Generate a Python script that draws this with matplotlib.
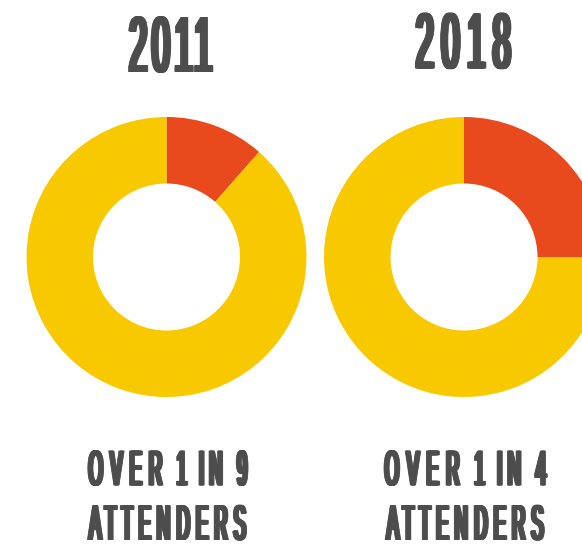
import numpy as np
import matplotlib
matplotlib.use("Agg")
import matplotlib.pyplot as plt
from matplotlib import patheffects
from matplotlib.path import Path
from matplotlib.transforms import Affine2D

# data
years = ['2011', '2018']
share = [11.5, 25.0]          # % of attenders, red slice
captions = ['OVER 1 IN 9', 'OVER 1 IN 4']
caption2 = 'ATTENDERS'

RED = '#E8491D'
YELLOW = '#F9C900'
GREY = '#4D4D4D'


class Condensed(patheffects.AbstractPathEffect):
    """fake a condensed display face: narrow each glyph, keep some spacing,
    thicken vertical stems, fit the whole line to a given ink width (px)"""
    def __init__(self, width_px, squeeze, bold_px, lw=0.5, yscale=1.0):
        super().__init__()
        self.width_px = width_px
        self.squeeze = squeeze
        self.bold_px = bold_px
        self.lw = lw
        self.yscale = yscale

    def draw_path(self, renderer, gc, tpath, affine, rgbFace=None):
        verts = affine.transform(tpath.vertices)
        base_y = affine.transform([[0, 0]])[0, 1]
        codes = tpath.codes
        starts = np.flatnonzero(codes == Path.MOVETO)
        ends = np.append(starts[1:], len(codes))
        boxes = []
        for s, e in zip(starts, ends):
            pts = verts[s:e][codes[s:e] != Path.CLOSEPOLY]
            boxes.append((pts[:, 0].min(), pts[:, 0].max(),
                          pts[:, 1].min(), pts[:, 1].max()))
        # holes (inner bowls of O, R, 9 ...) go with their outer contour
        owner = list(range(len(boxes)))
        for i, b in enumerate(boxes):
            for j, o in enumerate(boxes):
                if i != j and o[0] <= b[0] and b[1] <= o[1] and o[2] <= b[2] and b[3] <= o[3]:
                    owner[i] = j
                    break
        groups = {}
        for i, b in enumerate(boxes):
            g = owner[i]
            x0, x1 = groups.get(g, (b[0], b[1]))
            groups[g] = (min(x0, b[0]), max(x1, b[1]))
        cen = {g: (v[0] + v[1]) / 2 for g, v in groups.items()}
        half = {g: (v[1] - v[0]) / 2 for g, v in groups.items()}
        left = min(groups, key=lambda g: groups[g][0])
        right = max(groups, key=lambda g: groups[g][1])
        mid = (groups[left][0] + groups[right][1]) / 2

        lw_px = renderer.points_to_pixels(self.lw)
        target = self.width_px - lw_px - self.bold_px
        q = self.squeeze * self.yscale
        span = cen[right] - cen[left]
        sx = (target - q * (half[left] + half[right])) / span if span > 0 else 1.0

        new = verts.copy()
        for k, (s, e) in enumerate(zip(starts, ends)):
            g = owner[k]
            c = cen[g]
            new[s:e, 0] = mid + (c - mid) * sx + (verts[s:e, 0] - c) * q
        new[:, 1] = base_y + (verts[:, 1] - base_y) * self.yscale
        npath = Path(new, codes)

        gc0 = renderer.new_gc()
        gc0.copy_properties(gc)
        gc0.set_linewidth(self.lw)
        gc0.set_foreground(rgbFace)
        n = int(np.ceil(self.bold_px / 0.5)) + 1
        for dx in np.linspace(-self.bold_px / 2, self.bold_px / 2, n):
            renderer.draw_path(gc0, npath, Affine2D().translate(dx, 0), rgbFace)
        gc0.restore()


W, H = 582, 544
fig = plt.figure(figsize=(W / 100, H / 100), dpi=100)
ax = fig.add_axes([0, 0, 1, 1])

centers = [(166.5, H - 257), (464, H - 257)]
for (cx, cy), s in zip(centers, share):
    ax.pie([s, 100 - s], colors=[RED, YELLOW], startangle=90, counterclock=False,
           radius=140, center=(cx, cy),
           wedgeprops=dict(width=66.5, linewidth=0))

ax.set_xlim(0, W)
ax.set_ylim(0, H)
ax.set_aspect('equal')
ax.axis('off')

font = 'Liberation Sans'

# titles: (x centre, baseline, ink width)
title_pos = [(170.8, 71.6, 85), (463.3, 68.0, 97)]
for yr, (x, yb, w) in zip(years, title_pos):
    ax.text(x, H - yb, yr, ha='center', va='baseline', family=font,
            fontsize=56.6, color=GREY,
            path_effects=[Condensed(w, 0.41, 4.5)])

# captions are set small and stretched upwards by the effect
ys = 2.5
cap_fs = 35.5 / ys
cap_x = [167.3, 465]
cap_w = [161, 164]
for cap, x, w in zip(captions, cap_x, cap_w):
    ax.text(x, H - 485, cap, ha='center', va='baseline', family=font,
            fontsize=cap_fs, color=GREY,
            path_effects=[Condensed(w, 0.37, 3.5, yscale=ys)])
    ax.text(x, H - 539.6, caption2, ha='center', va='baseline', family=font,
            fontsize=cap_fs, color=GREY,
            path_effects=[Condensed(160, 0.37, 3.5, yscale=ys)])

fig.savefig('out.png', dpi=100)
